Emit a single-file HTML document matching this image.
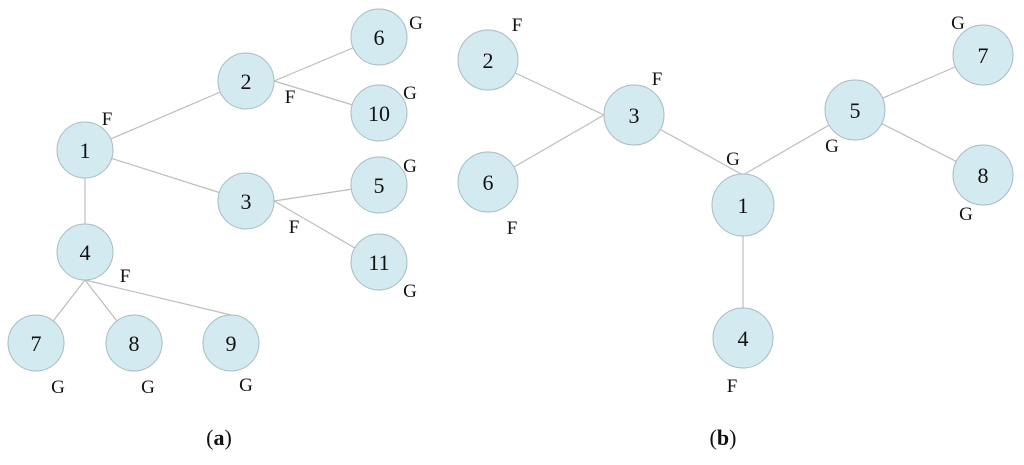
<!DOCTYPE html>
<html><head><style>
body{margin:0;background:#fff}
svg text{font-family:"Liberation Serif",serif}
</style></head><body>
<svg width="1024" height="460" viewBox="0 0 1024 460" xmlns="http://www.w3.org/2000/svg">
<g stroke="#bdbdbd" stroke-width="1.2" fill="none">
<line x1="85" y1="150" x2="246" y2="81"/>
<line x1="85" y1="150" x2="246" y2="201"/>
<line x1="85" y1="150" x2="85" y2="252"/>
<line x1="274" y1="81" x2="379" y2="37"/>
<line x1="274" y1="81" x2="379" y2="113"/>
<line x1="274" y1="201" x2="379" y2="185"/>
<line x1="274" y1="201" x2="379" y2="262"/>
<line x1="85" y1="280" x2="36" y2="343"/>
<line x1="85" y1="280" x2="134" y2="343"/>
<line x1="85" y1="280" x2="231" y2="315"/>
<line x1="488" y1="60" x2="604" y2="115"/>
<line x1="488" y1="182" x2="604" y2="115"/>
<line x1="634" y1="115" x2="743" y2="175"/>
<line x1="743" y1="175" x2="855" y2="110"/>
<line x1="855" y1="110" x2="983" y2="55"/>
<line x1="855" y1="110" x2="983" y2="175"/>
<line x1="743" y1="205" x2="743" y2="338"/>
</g>
<g fill="#d3eaf0" stroke="#a9bcc1" stroke-width="1">
<circle cx="85" cy="150" r="28"/><circle cx="246" cy="81" r="28"/><circle cx="379" cy="37" r="28"/>
<circle cx="379" cy="113" r="28"/><circle cx="246" cy="201" r="28"/><circle cx="379" cy="185" r="28"/>
<circle cx="379" cy="262" r="28"/><circle cx="85" cy="252" r="28"/><circle cx="36" cy="343" r="28"/>
<circle cx="134" cy="343" r="28"/><circle cx="231" cy="343" r="28"/>
<circle cx="488" cy="60" r="30"/><circle cx="634" cy="115" r="30"/><circle cx="488" cy="182" r="30"/>
<circle cx="743" cy="205" r="31"/><circle cx="743" cy="338" r="30"/><circle cx="855" cy="110" r="30"/>
<circle cx="983" cy="55" r="30"/><circle cx="983" cy="175" r="30"/>
</g>
<g font-size="22" text-anchor="middle" fill="#111">
<text x="85" y="158">1</text><text x="246" y="89">2</text><text x="379" y="45">6</text>
<text x="379" y="121">10</text><text x="246" y="209">3</text><text x="379" y="193">5</text>
<text x="379" y="270">11</text><text x="85" y="260">4</text><text x="36" y="351">7</text>
<text x="134" y="351">8</text><text x="231" y="351">9</text>
<text x="488" y="68">2</text><text x="634" y="123">3</text><text x="488" y="190">6</text>
<text x="743" y="213">1</text><text x="743" y="346">4</text><text x="855" y="118">5</text>
<text x="983" y="63">7</text><text x="983" y="183">8</text>
</g>
<g font-size="19" text-anchor="middle" fill="#111">
<text x="107" y="125">F</text><text x="290" y="103">F</text><text x="416" y="29">G</text>
<text x="410" y="99">G</text><text x="410" y="172">G</text><text x="294" y="233">F</text>
<text x="410" y="297">G</text><text x="125" y="282">F</text><text x="58" y="393">G</text>
<text x="148" y="393">G</text><text x="246" y="391">G</text>
<text x="517" y="31">F</text><text x="657" y="85">F</text><text x="512" y="234">F</text>
<text x="733" y="165">G</text><text x="832" y="152">G</text><text x="958" y="29">G</text>
<text x="966" y="220">G</text><text x="732" y="392">F</text>
</g>
<g font-size="22" text-anchor="middle" fill="#111">
<text x="219" y="445">(<tspan font-weight="bold">a</tspan>)</text>
<text x="723" y="445">(<tspan font-weight="bold">b</tspan>)</text>
</g>
</svg>
</body></html>
